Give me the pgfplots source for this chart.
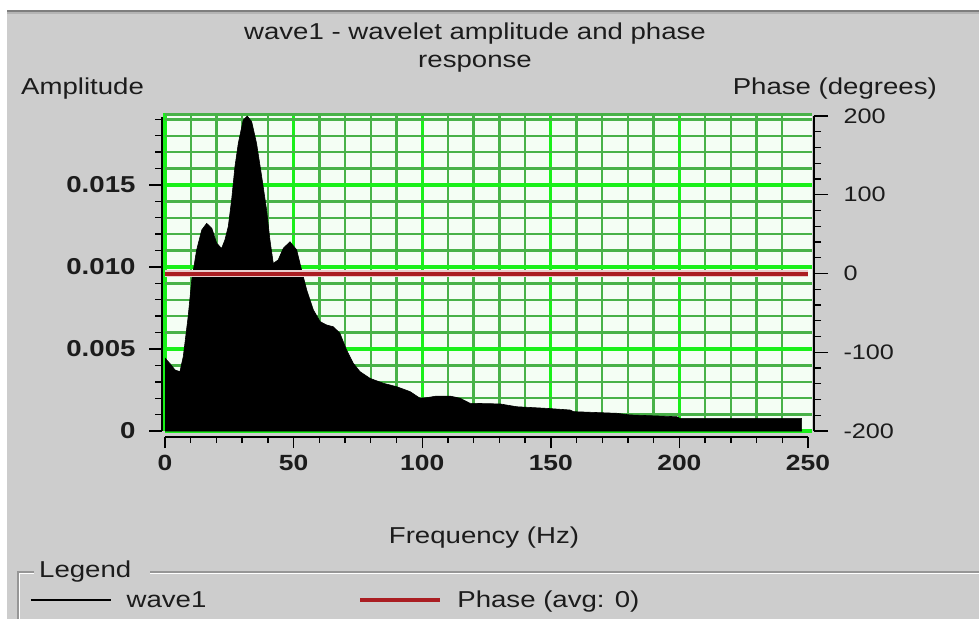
\documentclass[border=0pt]{standalone}
\usepackage{pgfplots}
\pgfplotsset{compat=1.18}
\usepackage{fontspec}
\setmainfont{Liberation Sans}[FakeStretch=1.2]

\definecolor{panel}{RGB}{205,205,205}
\definecolor{txt}{RGB}{28,28,28}
\definecolor{plotbg}{RGB}{244,254,244}
\definecolor{gmaj}{RGB}{25,240,25}
\definecolor{gmin}{RGB}{72,178,72}
\definecolor{phase}{RGB}{170,30,34}
\definecolor{phasehalo}{RGB}{235,205,205}

% amplitude spectrum of wave1: frequency (Hz), amplitude
\pgfplotstableread{
f      a
0      0.00445
2      0.00410
3.9    0.00372
5.8    0.00362
7.1    0.00453
9      0.00697
10.4   0.00920
12.3   0.01104
14.3   0.01226
16.2   0.01266
18.2   0.01236
20.1   0.01145
22     0.01113
23.3   0.01165
24.6   0.01246
25.9   0.01409
27.2   0.01612
28.5   0.01754
30.4   0.01896
32     0.01920
33.7   0.01886
35.6   0.01754
37.6   0.01551
39.5   0.01348
40.8   0.01165
42.1   0.01022
44     0.01043
46     0.01114
48.6   0.01154
51.2   0.01104
53.1   0.00982
55.1   0.00860
57.7   0.00738
60.3   0.00667
62.9   0.00646
65.4   0.00636
68     0.00596
70.6   0.00494
73.2   0.00413
75.8   0.00362
79.7   0.00321
84.9   0.00291
90.1   0.00270
95.3   0.00240
99.1   0.00200
101.7  0.00203
105.6  0.00213
110.8  0.00213
114.7  0.00200
118.6  0.00169
130.3  0.00165
136.7  0.00148
148.4  0.00138
157.5  0.00128
158.8  0.00118
175.6  0.00108
180.8  0.00098
199    0.00087
200.2  0.00077
247.5  0.00077
}\amptable

% phase response (degrees)
\pgfplotstableread{
f    p
0    0
250  0
}\phasetable

\newcommand{\labfont}{\fontsize{23}{28}\selectfont}

\begin{document}
\begin{tikzpicture}[x=1pt,y=1pt]
\useasboundingbox (0,0) rectangle (979,619);
% window panel
\fill[white] (0,0) rectangle (979,619);
\fill[panel] (7,0) rectangle (979,609);
\draw[color={rgb,255:red,126;green,126;blue,126}, line width=2pt] (7,608) -- (979,608);
\draw[color={rgb,255:red,180;green,180;blue,180}, line width=2pt] (7,606) -- (979,606);

% titles and axis names
\node[align=center, text=txt, font=\labfont] at (475,571)
  {wave1 - wavelet amplitude and phase\\response};
\node[anchor=west, text=txt, font=\labfont, inner sep=0pt] at (21,530) {Amplitude};
\node[anchor=east, text=txt, font=\labfont, inner sep=0pt] at (937,530) {Phase (degrees)};
\node[text=txt, font=\labfont, inner sep=0pt] at (484,81) {Frequency (Hz)};

% legend group frame
\draw[color={rgb,255:red,150;green,150;blue,150}, line width=1.2pt]
  (979,47) -- (150,47) (34,47) -- (18,47) -- (18,0);
\draw[white, line width=1.2pt]
  (979,45.6) -- (150,45.6) (34,45.6) -- (19.4,45.6) -- (19.4,0);
\node[anchor=west, text=txt, font=\labfont, inner sep=0pt] at (39,47) {Legend};

% plot area with grid and amplitude spectrum
\begin{axis}[
  at={(165pt,188pt)}, anchor=south west,
  scale only axis, width=647pt, height=318pt,
  xmin=0, xmax=251.56, ymin=0, ymax=0.01939,
  axis background/.style={fill=plotbg},
  xtick={0,50,...,200},
  minor xtick={10,20,30,40,60,70,80,90,110,120,130,140,160,170,180,190,210,220,230,240},
  ytick={0,0.005,0.010,0.015},
  minor ytick={0.001,0.002,0.003,0.004,0.006,0.007,0.008,0.009,0.011,0.012,0.013,0.014,0.016,0.017,0.018,0.019},
  extra y ticks={0.0193}, extra y tick labels={},
  extra y tick style={major grid style={draw=gmin, line width=2.4pt}},
  xticklabels={}, yticklabels={},
  major tick length=0pt, minor tick length=0pt,
  grid=both,
  major grid style={draw=gmaj, line width=3.2pt},
  minor grid style={draw=gmin, line width=2.4pt},
  axis line style={draw=none},
  scaled y ticks=false,
]
\addplot[fill=black, draw=black, line width=0.6pt] table[x=f, y=a] {\amptable} \closedcycle;
\end{axis}

% left amplitude axis
\begin{axis}[
  at={(162pt,188pt)}, anchor=south west,
  scale only axis, width=650pt, height=314pt,
  xmin=0, xmax=1, ymin=0, ymax=0.019146,
  axis x line=none, axis y line=left,
  axis line style={black, line width=2pt, -},
  every outer y axis line/.append style={-},
  tick align=outside,
  major tick length=13pt, minor tick length=7pt,
  tick style={black, line width=1.4pt},
  ytick={0,0.005,0.010,0.015},
  yticklabels={0,0.005,0.010,0.015},
  minor ytick={0.001,0.002,0.003,0.004,0.006,0.007,0.008,0.009,0.011,0.012,0.013,0.014,0.016,0.017,0.018,0.019},
  yticklabel style={font=\fontsize{23}{23}\selectfont\bfseries, text=txt, xshift=-10pt},
  /pgf/number format/assume math mode=true,
  scaled y ticks=false,
]
\end{axis}

% bottom frequency axis
\begin{axis}[
  at={(165pt,182pt)}, anchor=south west,
  scale only axis, width=643pt, height=300pt,
  xmin=0, xmax=250, ymin=0, ymax=1,
  axis x line=bottom, axis y line=none,
  axis line style={black, line width=2pt, -},
  every outer x axis line/.append style={-},
  tick align=outside,
  major tick length=11pt, minor tick length=6pt,
  tick style={black, line width=1.4pt},
  xtick={0,50,...,250}, minor x tick num=4,
  xticklabels={0,50,100,150,200,250},
  xticklabel style={font=\fontsize{22}{22}\selectfont\bfseries, text=txt, yshift=-4pt},
  /pgf/number format/assume math mode=true,
]
\end{axis}

% right phase axis with phase response and legend
\begin{axis}[
  at={(165pt,188pt)}, anchor=south west,
  scale only axis, width=649pt, height=315pt,
  xmin=0, xmax=252.33, ymin=-200, ymax=200,
  axis x line=none, axis y line=right,
  axis line style={black, line width=2pt, -},
  every outer y axis line/.append style={-},
  tick align=outside,
  major tick length=14pt, minor tick length=7pt,
  tick style={black, line width=1.4pt},
  ytick={-200,-100,0,100,200}, minor y tick num=4,
  yticklabels={-200,-100,0,100,200},
  yticklabel style={font=\fontsize{21}{21}\selectfont, text=txt, xshift=12pt},
  /pgf/number format/assume math mode=true,
  clip=false,
  legend image code/.code={\draw (0pt,0pt) -- (80pt,0pt);},
  legend style={at={(axis description cs:-0.2080,-0.5365)}, anchor=west,
    draw=none, fill=none, inner sep=0pt, outer sep=0pt,
    font=\labfont, text=txt,
    nodes={inner sep=0pt},
    /tikz/every odd column/.append style={column sep=15pt},
    /tikz/every even column/.append style={column sep=152pt}},
  legend columns=2,
]
\addplot[phasehalo, line width=7pt, forget plot] table[x=f, y=p] {\phasetable};
\addlegendimage{black, line width=1.6pt}
\addlegendentry{wave1}
\addplot[phase, line width=4pt] table[x=f, y=p] {\phasetable};
\addlegendentry{Phase (avg: 0)}
\end{axis}
\end{tikzpicture}
\end{document}
